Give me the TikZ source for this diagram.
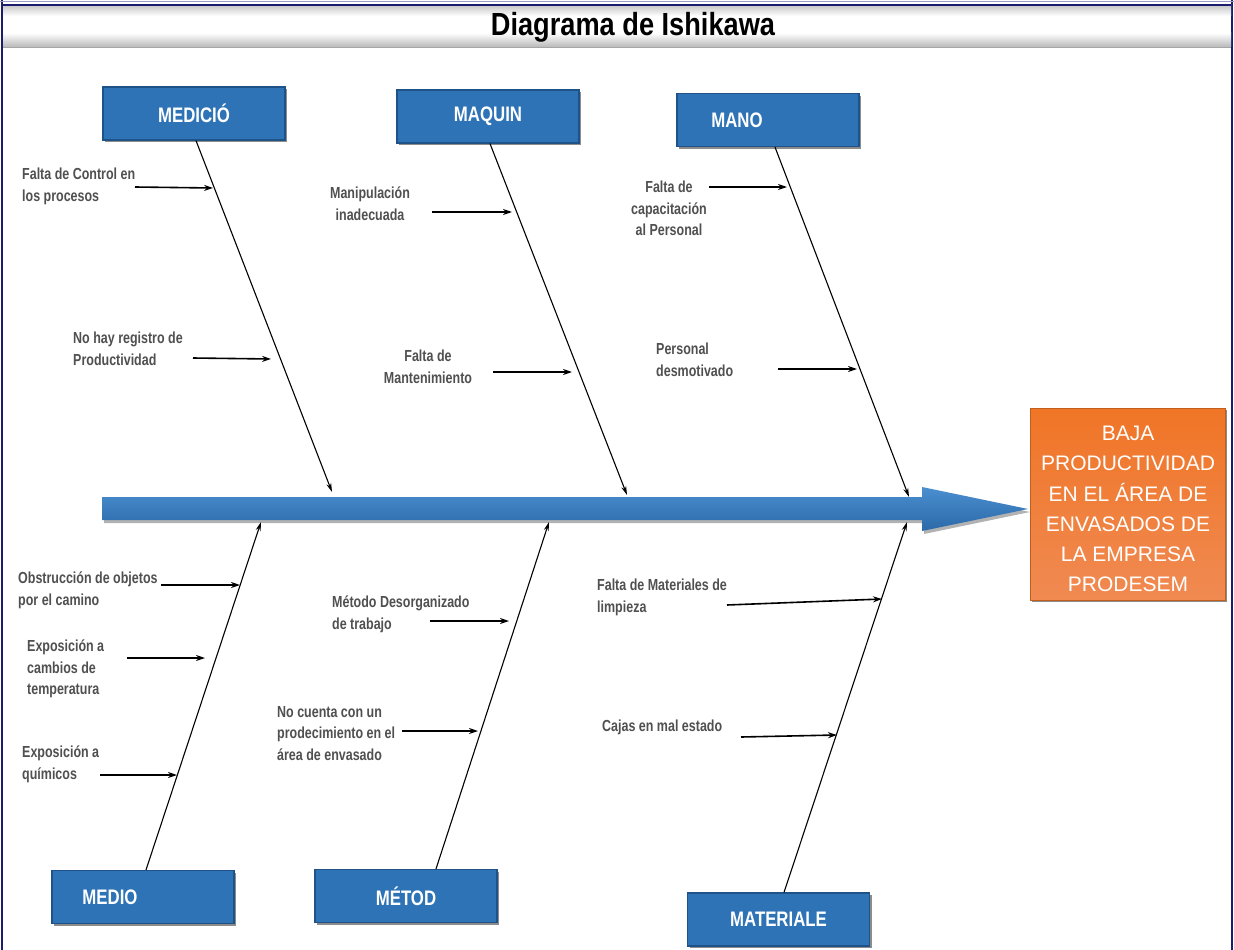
\documentclass[tikz,border=0pt]{standalone}
\usepackage{fontspec}
\setmainfont{Liberation Sans}
\newfontfamily\narrowfont[FakeStretch=0.8]{Liberation Sans}
\newfontfamily\causefont[FakeStretch=0.78]{Liberation Sans}
\newfontfamily\titlefont[FakeStretch=0.85]{Liberation Sans}
\usetikzlibrary{arrows.meta,shadows,calc}
\definecolor{boxblue}{HTML}{2E73B5}
\definecolor{boxedge}{HTML}{1F5287}
\definecolor{spinetop}{HTML}{4A8FD0}
\definecolor{spinebot}{HTML}{2C69A8}
\definecolor{orangetop}{HTML}{F07526}
\definecolor{orangebot}{HTML}{F08A52}
\definecolor{navy}{HTML}{1C1C6E}
\definecolor{labelgray}{HTML}{505050}
\tikzset{
  catbox/.style={draw=boxedge, line width=1.2pt, fill=boxblue, minimum width=182pt, minimum height=53pt,
    inner sep=0pt, text=white, font=\narrowfont\bfseries\fontsize{21}{21}\selectfont,
    drop shadow={shadow xshift=2pt, shadow yshift=-2pt, opacity=.45, fill=black}},
  effectbox/.style={top color=orangetop, bottom color=orangebot, draw=orangetop!80!black, line width=0.8pt,
    minimum width=195pt, minimum height=192pt, inner sep=0pt,
    drop shadow={shadow xshift=2pt, shadow yshift=-2pt, opacity=.45, fill=black}},
  effecttext/.style={inner sep=0pt, align=center, text=white, font=\fontsize{21}{30.2}\selectfont},
  cause/.style={inner sep=0pt, text=labelgray, font=\causefont\bfseries\fontsize{16}{21.5}\selectfont},
  bone/.style={draw=black, line width=1.1pt, -{Stealth[length=9pt,width=5pt]}},
  subarrow/.style={draw=black, line width=1.6pt, -{Stealth[length=9pt,width=6pt]}},
  titletext/.style={inner sep=0pt, font=\titlefont\bfseries\fontsize{32}{32}\selectfont, text=black}
}
\begin{document}
\begin{tikzpicture}[x=1pt,y=-1pt]
\useasboundingbox (0,0) rectangle (1234,950);
\fill[white] (0,0) rectangle (1234,950);
% frame
\draw[navy, line width=1.8pt] (2,0) -- (2,950);
\draw[navy, line width=1.8pt] (1232,0) -- (1232,950);
% title bar
\shade[top color=gray!45, bottom color=white] (3,5) rectangle (1231,16);
\shade[top color=white, bottom color=gray!55] (3,33) rectangle (1231,47);
\draw[blue!30!gray!60, line width=1pt] (0,1.5) -- (1234,1.5);
\draw[navy, line width=1.2pt] (3,5) -- (1231,5);
\draw[gray!70, line width=0.8pt] (3,47) -- (1231,47);
\node[titletext] (title) at (633,27) {Diagrama de Ishikawa};

% category boxes
\node[catbox] (medicion) at (194,113.5) {MEDICIÓ};
\node[catbox] (maquin) at (488,116.5) {MAQUIN};
\node[catbox] (mano) at (768,120) {MANO\hspace*{62pt}};
\node[catbox] (medio) at (143,897) {MEDIO\hspace*{66pt}};
\node[catbox] (metodo) at (406,896) {MÉTOD};
\node[catbox] (materiale) at (778.5,919.5) {MATERIALE};

% effect box
\node[effectbox] (effect) at (1127.5,504) {};
\node[effecttext] (effecttxt) at (1128,509) {BAJA\\PRODUCTIVIDAD\\EN EL ÁREA DE\\ENVASADOS DE\\LA EMPRESA\\PRODESEM};

% spine
\fill[black, opacity=.3] (104,500) -- (924,500) -- (924,490) -- (1030,512) -- (924,534) -- (924,523) -- (104,523) -- cycle;
\shade[top color=spinetop, bottom color=spinebot] (102,497) -- (922,497) -- (922,487) -- (1028,509) -- (922,531) -- (922,520) -- (102,520) -- cycle;
\coordinate (spinetip) at (1028,509);

% bone end points on the spine
\coordinate (b1) at (332,492);
\coordinate (b2) at (627,495);
\coordinate (b3) at (909,497);
\coordinate (b4) at (261,522);
\coordinate (b5) at (549,522);
\coordinate (b6) at (907,522);

\draw[bone] ([xshift=2pt]medicion.south) -- (b1);
\draw[bone] ([xshift=2pt]maquin.south) -- (b2);
\draw[bone] ([xshift=7pt]mano.south) -- (b3);
\draw[bone] ([xshift=3pt]medio.north) -- (b4);
\draw[bone] ([xshift=30pt]metodo.north) -- (b5);
\draw[bone] ([xshift=5.5pt]materiale.north) -- (b6);

% cause labels
\node[cause, anchor=north west, align=left] (c1) at (22,168) {Falta de Control en\\los procesos};
\node[cause, anchor=north west, align=left] (c2) at (73,332) {No hay registro de\\Productividad};
\node[cause, anchor=north, align=center] (c3) at (370,187) {Manipulación\\inadecuada};
\node[cause, anchor=north, align=center] (c4) at (428,350) {Falta de\\Mantenimiento};
\node[cause, anchor=north, align=center] (c5) at (669,181) {Falta de\\capacitación\\al Personal};
\node[cause, anchor=north west, align=left] (c6) at (656,343) {Personal\\desmotivado};
\node[cause, anchor=north west, align=left] (c7) at (18,572) {Obstrucción de objetos\\por el camino};
\node[cause, anchor=north west, align=left] (c8) at (27,640) {Exposición a\\cambios de\\temperatura};
\node[cause, anchor=north west, align=left] (c9) at (22,746) {Exposición a\\químicos};
\node[cause, anchor=north west, align=left] (c10) at (332,596) {Método Desorganizado\\de trabajo};
\node[cause, anchor=north west, align=left] (c11) at (277,706) {No cuenta con un\\prodecimiento en el\\área de envasado};
\node[cause, anchor=north west, align=left] (c12) at (597,579) {Falta de Materiales de\\limpieza};
\node[cause, anchor=north west, align=left] (c13) at (602,720) {Cajas en mal estado};

% sub-arrow start and tip points
\coordinate (s1a) at (135,187);  \coordinate (s1b) at (213,188);
\coordinate (s2a) at (193,358);  \coordinate (s2b) at (271,359);
\coordinate (s3a) at (432,212);  \coordinate (s3b) at (512,212);
\coordinate (s4a) at (493,372);  \coordinate (s4b) at (572,372);
\coordinate (s5a) at (709,187);  \coordinate (s5b) at (787,187);
\coordinate (s6a) at (778,369);  \coordinate (s6b) at (857,369);
\coordinate (s7a) at (161,585);  \coordinate (s7b) at (240,585);
\coordinate (s8a) at (127,658);  \coordinate (s8b) at (205,658);
\coordinate (s9a) at (100,775);  \coordinate (s9b) at (177,775);
\coordinate (s10a) at (430,621); \coordinate (s10b) at (509,621);
\coordinate (s11a) at (402,731); \coordinate (s11b) at (478,731);
\coordinate (s12a) at (727,605); \coordinate (s12b) at (882,599);
\coordinate (s13a) at (741,737); \coordinate (s13b) at (837,735);

\foreach \i in {1,...,13} {\draw[subarrow] (s\i a) -- (s\i b);}
\end{tikzpicture}
\end{document}
